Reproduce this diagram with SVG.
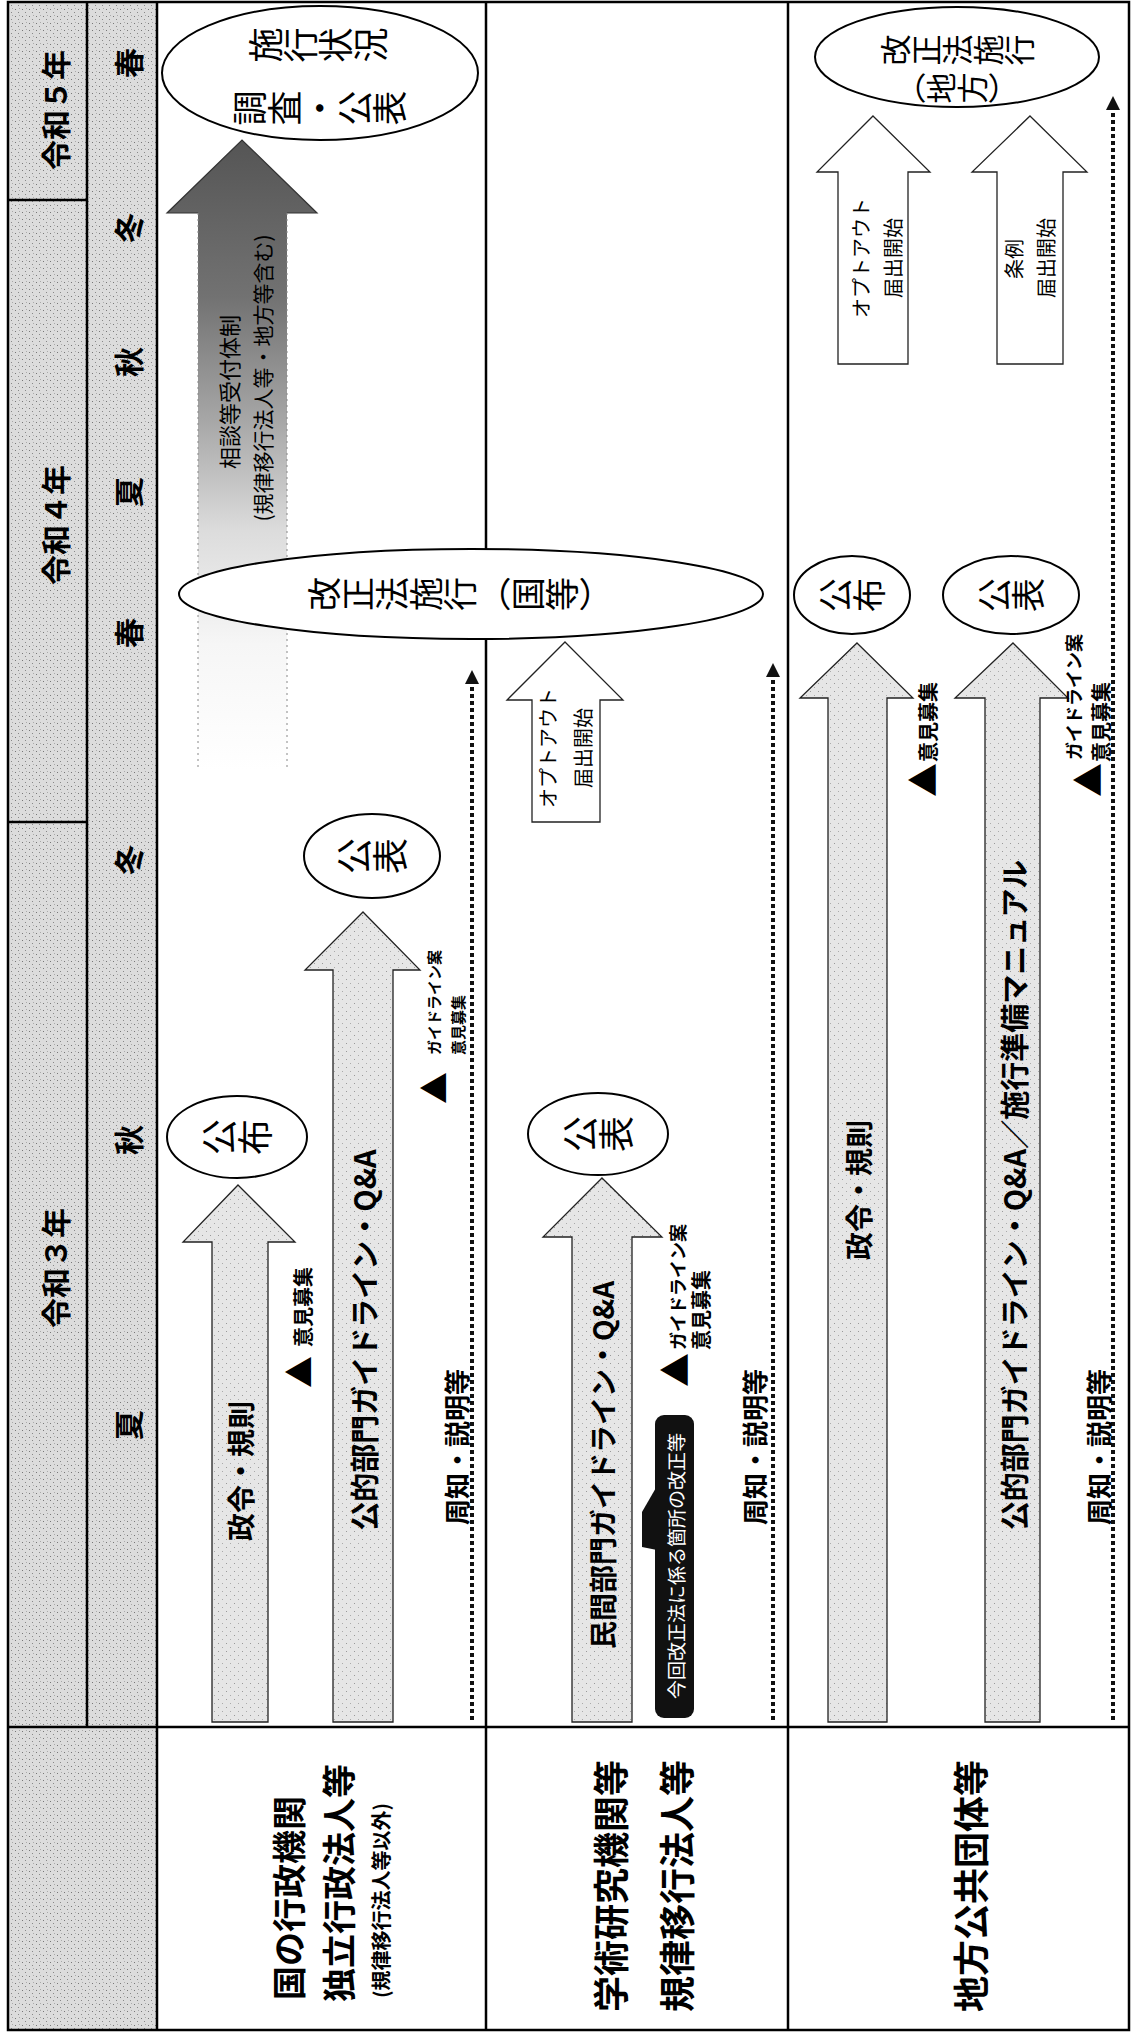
<svg xmlns="http://www.w3.org/2000/svg" width="1132" height="2035" viewBox="0 0 1132 2035">
<defs>
<style>
.t{font-family:"Noto Sans CJK JP","Noto Sans",sans-serif;fill:#000;text-anchor:middle;dominant-baseline:central}
.b{font-weight:700}
.s{text-anchor:start}
.v{writing-mode:vertical-rl}
.w{fill:#fff}
.hdr{fill:url(#st)}
.ln{stroke:#000;stroke-width:2.5;fill:none}
.lt{fill:url(#st2);stroke:#222;stroke-width:1.3}
.wh{fill:#fff;stroke:#222;stroke-width:1.3}
.el{fill:#fff;stroke:#000;stroke-width:2}
.dot{stroke:#111;stroke-width:4;stroke-dasharray:4 3;fill:none}
</style>
<pattern id="st" width="7" height="7" patternUnits="userSpaceOnUse">
<rect width="7" height="7" fill="#dcdcdc"/>
<rect x="1" y="2" width="1" height="1" fill="#777"/>
<rect x="4" y="5" width="1" height="1" fill="#888"/>
<rect x="5" y="1" width="1" height="1" fill="#aaa"/>
</pattern>
<pattern id="st2" width="8" height="8" patternUnits="userSpaceOnUse">
<rect width="8" height="8" fill="#e6e6e6"/>
<rect x="2" y="3" width="1" height="1" fill="#999"/>
<rect x="6" y="7" width="1" height="1" fill="#aaa"/>
</pattern>
<linearGradient id="dk" x1="0" y1="140" x2="0" y2="770" gradientUnits="userSpaceOnUse">
<stop offset="0" stop-color="#555"/>
<stop offset="0.25" stop-color="#727272"/>
<stop offset="0.45" stop-color="#a8a8a8"/>
<stop offset="0.62" stop-color="#dcdcdc"/>
<stop offset="0.8" stop-color="#f6f6f6"/>
<stop offset="1" stop-color="#fff"/>
</linearGradient>
<marker id="ah" markerUnits="userSpaceOnUse" markerWidth="14" markerHeight="14" refX="0" refY="7" orient="auto" viewBox="0 0 14 14">
<path d="M0,0 L14,7 L0,14 z" fill="#111"/>
</marker>
</defs>
<rect x="0" y="0" width="1132" height="2035" fill="#fff"/>
<g id="header">
<rect class="hdr" x="8" y="2" width="149" height="2028"/>
<path class="ln" d="M87,2 V1727 M8,200 H87 M8,822 H87 M8,1727 H1129 M157,2 V2030 M486,2 V2030 M788,2 V2030"/>
<rect class="ln" x="8" y="2" width="1121" height="2028"/>
<text class="t b" font-size="30" transform="translate(54,110) rotate(-90)">令和５年</text>
<text class="t b" font-size="30" transform="translate(54,525) rotate(-90)">令和４年</text>
<text class="t b" font-size="30" transform="translate(54,1268) rotate(-90)">令和３年</text>
<text class="t b" font-size="30" transform="translate(127,63) rotate(-90)">春</text>
<text class="t b" font-size="30" transform="translate(127,228) rotate(-90)">冬</text>
<text class="t b" font-size="30" transform="translate(127,362) rotate(-90)">秋</text>
<text class="t b" font-size="30" transform="translate(127,492) rotate(-90)">夏</text>
<text class="t b" font-size="30" transform="translate(127,633) rotate(-90)">春</text>
<text class="t b" font-size="30" transform="translate(127,860) rotate(-90)">冬</text>
<text class="t b" font-size="30" transform="translate(127,1140) rotate(-90)">秋</text>
<text class="t b" font-size="30" transform="translate(127,1425) rotate(-90)">夏</text>
</g>
<g id="row-labels">
<text class="t b s" font-size="34" transform="translate(287,2000) rotate(-90)">国の行政機関</text>
<text class="t b s" font-size="34" transform="translate(337,2002) rotate(-90)">独立行政法人等</text>
<text class="t b s" font-size="20" transform="translate(380,1998) rotate(-90)">(規律移行法人等以外)</text>
<text class="t b s" font-size="36" transform="translate(609,2012) rotate(-90)">学術研究機関等</text>
<text class="t b s" font-size="36" transform="translate(675,2012) rotate(-90)">規律移行法人等</text>
<text class="t b s" font-size="36" transform="translate(969,2012) rotate(-90)">地方公共団体等</text>
</g>
<g id="connectors">
<path class="dot" d="M472,1720 V684" marker-end="url(#ah)"/>
<path class="dot" d="M773,1720 V677" marker-end="url(#ah)"/>
<path class="dot" d="M1113,1720 V110" marker-end="url(#ah)"/>
</g>
<g id="consult-arrow">
<polygon points="242,140 317,213 287,213 287,770 198,770 198,213 167,213" fill="url(#dk)"/>
<path d="M198,213 H167 L242,140 L317,213 H287" fill="none" stroke="#333" stroke-width="1.2"/>
<path d="M198,213 V770 M287,213 V770" stroke="#888" stroke-width="1" stroke-dasharray="2 4" fill="none"/>
<text class="t" font-size="22" transform="translate(228,392) rotate(-90)">相談等受付体制</text>
<text class="t" font-size="21" transform="translate(262,378) rotate(-90)">(規律移行法人等・地方等含む)</text>
</g>
<g id="survey">
<ellipse class="el" cx="320" cy="73" rx="158" ry="67"/>
<text class="t v" font-size="35" transform="translate(318,45) rotate(-90)">施行状況</text>
<text class="t v" font-size="35" transform="translate(320,108) rotate(-90)">調査・公表</text>
</g>
<g id="enforce-national">
<ellipse class="el" cx="471" cy="594" rx="292" ry="45"/>
<text class="t v" font-size="34" transform="translate(460,594) rotate(-90)">改正法施行（国等）</text>
</g>
<g id="enforce-local">
<ellipse class="el" cx="957" cy="57" rx="142" ry="50"/>
<text class="t v" font-size="31" transform="translate(957,50) rotate(-90)">改正法施行</text>
<text class="t v" font-size="31" transform="translate(957,88) rotate(-90)">（地方）</text>
</g>
<g id="r1-guideline">
<polygon class="lt" points="363,912 420,970 393,970 393,1722 333,1722 333,970 305,970"/>
<text class="t b" font-size="29" transform="translate(363,1340) rotate(-90)">公的部門ガイドライン・Q&amp;A</text>
</g>
<g id="r1-guideline-publish">
<ellipse class="el" cx="372" cy="856" rx="68" ry="42"/>
<text class="t v" font-size="36" transform="translate(372,856) rotate(-90)">公表</text>
</g>
<g id="r1-guideline-comment">
<text class="t" font-size="32" transform="translate(432,1088) rotate(-90)">▲</text>
<text class="t b s" font-size="15" transform="translate(433,1055) rotate(-90)">ガイドライン案</text>
<text class="t b s" font-size="15" transform="translate(457,1055) rotate(-90)">意見募集</text>
</g>
<g id="r1-order">
<polygon class="lt" points="238,1185 295,1242 268,1242 268,1722 212,1722 212,1242 183,1242"/>
<text class="t b" font-size="28" transform="translate(240,1471) rotate(-90)">政令・規則</text>
</g>
<g id="r1-order-publish">
<ellipse class="el" cx="237" cy="1137" rx="70" ry="41"/>
<text class="t v" font-size="36" transform="translate(237,1137) rotate(-90)">公布</text>
</g>
<g id="r1-order-comment">
<text class="t" font-size="32" transform="translate(297,1372) rotate(-90)">▲</text>
<text class="t b s" font-size="20" transform="translate(302,1347) rotate(-90)">意見募集</text>
</g>
<g id="r1-notice">
<text class="t b" font-size="26" transform="translate(455,1447) rotate(-90)">周知・説明等</text>
</g>
<g id="r2-optout">
<polygon class="wh" points="565,642 623,700 600,700 600,822 532,822 532,700 507,700"/>
<text class="t" font-size="20" transform="translate(547,748) rotate(-90)">オプトアウト</text>
<text class="t" font-size="20" transform="translate(582,748) rotate(-90)">届出開始</text>
</g>
<g id="r2-guideline">
<polygon class="lt" points="602,1178 662,1237 632,1237 632,1722 572,1722 572,1237 543,1237"/>
<text class="t b" font-size="28" transform="translate(602,1465) rotate(-90)">民間部門ガイドライン・Q&amp;A</text>
</g>
<g id="r2-guideline-publish">
<ellipse class="el" cx="598" cy="1134" rx="70" ry="41"/>
<text class="t v" font-size="36" transform="translate(598,1134) rotate(-90)">公表</text>
</g>
<g id="r2-guideline-comment">
<text class="t" font-size="34" transform="translate(673,1370) rotate(-90)">▲</text>
<text class="t b s" font-size="18" transform="translate(677,1350) rotate(-90)">ガイドライン案</text>
<text class="t b s" font-size="20" transform="translate(700,1350) rotate(-90)">意見募集</text>
</g>
<g id="r2-tag">
<rect x="655" y="1415" width="39" height="303" rx="9" fill="#111"/>
<polygon points="657,1486 642,1512 642,1547 657,1550" fill="#111"/>
<text class="t w" font-size="19" transform="translate(675,1566) rotate(-90)">今回改正法に係る箇所の改正等</text>
</g>
<g id="r2-notice">
<text class="t b" font-size="26" transform="translate(753,1447) rotate(-90)">周知・説明等</text>
</g>
<g id="r3-optout">
<polygon class="wh" points="873,116 930,172 908,172 908,364 838,364 838,172 817,172"/>
<text class="t" font-size="20" transform="translate(860,258) rotate(-90)">オプトアウト</text>
<text class="t" font-size="20" transform="translate(892,258) rotate(-90)">届出開始</text>
</g>
<g id="r3-ordinance">
<polygon class="wh" points="1030,116 1087,172 1063,172 1063,364 997,364 997,172 972,172"/>
<text class="t" font-size="20" transform="translate(1013,259) rotate(-90)">条例</text>
<text class="t" font-size="20" transform="translate(1045,258) rotate(-90)">届出開始</text>
</g>
<g id="r3-order">
<polygon class="lt" points="857,643 913,698 887,698 887,1722 828,1722 828,698 800,698"/>
<text class="t b" font-size="28" transform="translate(858,1190) rotate(-90)">政令・規則</text>
</g>
<g id="r3-order-publish">
<ellipse class="el" cx="852" cy="595" rx="58" ry="39"/>
<text class="t v" font-size="34" transform="translate(852,595) rotate(-90)">公布</text>
</g>
<g id="r3-order-comment">
<text class="t" font-size="34" transform="translate(921,780) rotate(-90)">▲</text>
<text class="t b s" font-size="20" transform="translate(927,762) rotate(-90)">意見募集</text>
</g>
<g id="r3-guideline">
<polygon class="lt" points="1013,643 1068,698 1040,698 1040,1722 985,1722 985,698 955,698"/>
<text class="t b" font-size="29" transform="translate(1013,1195) rotate(-90)">公的部門ガイドライン・Q&amp;A／施行準備マニュアル</text>
</g>
<g id="r3-guideline-publish">
<ellipse class="el" cx="1011" cy="595" rx="68" ry="39"/>
<text class="t v" font-size="34" transform="translate(1011,595) rotate(-90)">公表</text>
</g>
<g id="r3-guideline-comment">
<text class="t" font-size="34" transform="translate(1086,780) rotate(-90)">▲</text>
<text class="t b s" font-size="18" transform="translate(1073,760) rotate(-90)">ガイドライン案</text>
<text class="t b s" font-size="20" transform="translate(1100,762) rotate(-90)">意見募集</text>
</g>
<g id="r3-notice">
<text class="t b" font-size="26" transform="translate(1097,1447) rotate(-90)">周知・説明等</text>
</g>
</svg>
